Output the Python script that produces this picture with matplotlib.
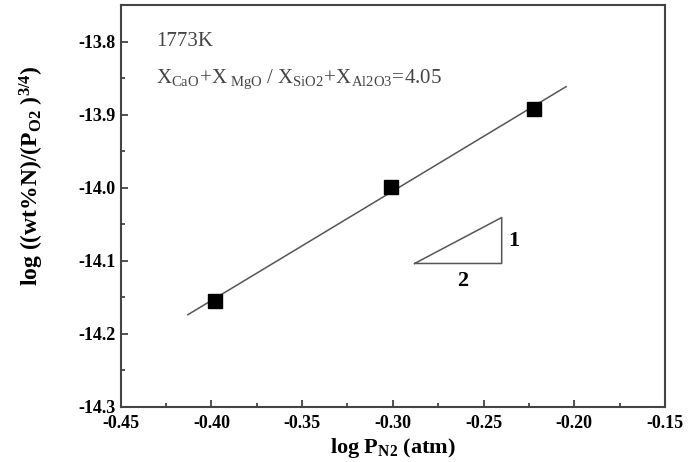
import numpy as np
import matplotlib
matplotlib.use("Agg")
import matplotlib.pyplot as plt
from matplotlib.ticker import MultipleLocator

plt.rcParams['font.family'] = ['Liberation Serif', 'DejaVu Serif']
plt.rcParams['mathtext.fontset'] = 'custom'
plt.rcParams['mathtext.rm'] = 'Liberation Serif'
plt.rcParams['mathtext.it'] = 'Liberation Serif:italic'
plt.rcParams['mathtext.bf'] = 'Liberation Serif:bold'

# data
log_pn2 = [-0.398, -0.301, -0.222]
log_n = [-14.155, -13.999, -13.892]
fit_range = [-0.413, -0.2045]

# slope triangle (run 2, rise 1)
tri_x = [-0.288, -0.240, -0.240, -0.288]
tri_y = [-14.104, -14.104, -14.041, -14.104]

fig = plt.figure(figsize=(6.88, 4.62), dpi=100)
ax = fig.add_axes([0.1755, 0.12, 0.791, 0.869])

k, b = np.polyfit(log_pn2, log_n, 1)
xf = np.array(fit_range)
ax.plot(xf, k * xf + b, color='#555555', lw=1.1, zorder=2)
ax.plot(log_pn2, log_n, 's', color='black', ms=10.5, zorder=3)

ax.plot(tri_x, tri_y, color='#555555', lw=1.1)
ax.text(-0.2335, -14.073, '1', fontsize=16, fontweight='bold', ha='center', va='center')
ax.text(-0.2615, -14.128, '2', fontsize=16, fontweight='bold', ha='center', va='center')

ax.text(-0.4305, -13.8, '1773K', fontsize=15, color='#444444', ha='left', va='center')
ax.text(-0.4305, -13.852,
        r'$\mathrm{X_{CaO}\!+\!X_{\ MgO}\ /\ X_{SiO2}\!+\!X_{Al2O3}\!=\!4.05}$',
        fontsize=15, color='#444444', ha='left', va='center')

ax.set_xlim(-0.45, -0.15)
ax.set_ylim(-14.3, -13.75)
ax.xaxis.set_major_locator(MultipleLocator(0.05))
ax.xaxis.set_minor_locator(MultipleLocator(0.025))
ax.yaxis.set_major_locator(MultipleLocator(0.1))
ax.yaxis.set_minor_locator(MultipleLocator(0.05))
ax.xaxis.set_major_formatter(matplotlib.ticker.FormatStrFormatter('%.2f'))
ax.yaxis.set_major_formatter(matplotlib.ticker.FormatStrFormatter('%.1f'))
ax.tick_params(which='both', direction='in', top=False, right=False,
               labelsize=13, width=1.2, color='#333333')
ax.tick_params(which='major', length=5)
ax.tick_params(which='minor', length=3)
ax.tick_params(axis='x', pad=6)
for lab in ax.get_xticklabels() + ax.get_yticklabels():
    lab.set_fontweight('bold')
for sp in ax.spines.values():
    sp.set_linewidth(1.5)
    sp.set_color('#444444')

ax.set_xlabel(r'log P$_{\mathbf{N2}}$ (atm)', fontsize=16, fontweight='bold', labelpad=3)
ax.set_ylabel(r'log ((wt%N)/(P$_{\mathbf{O2}}$ )$^{\mathbf{3/4}}$)', fontsize=17,
              fontweight='bold', va='center')
ax.yaxis.set_label_coords(-0.163, 0.575)

fig.savefig('out.png', dpi=100)
